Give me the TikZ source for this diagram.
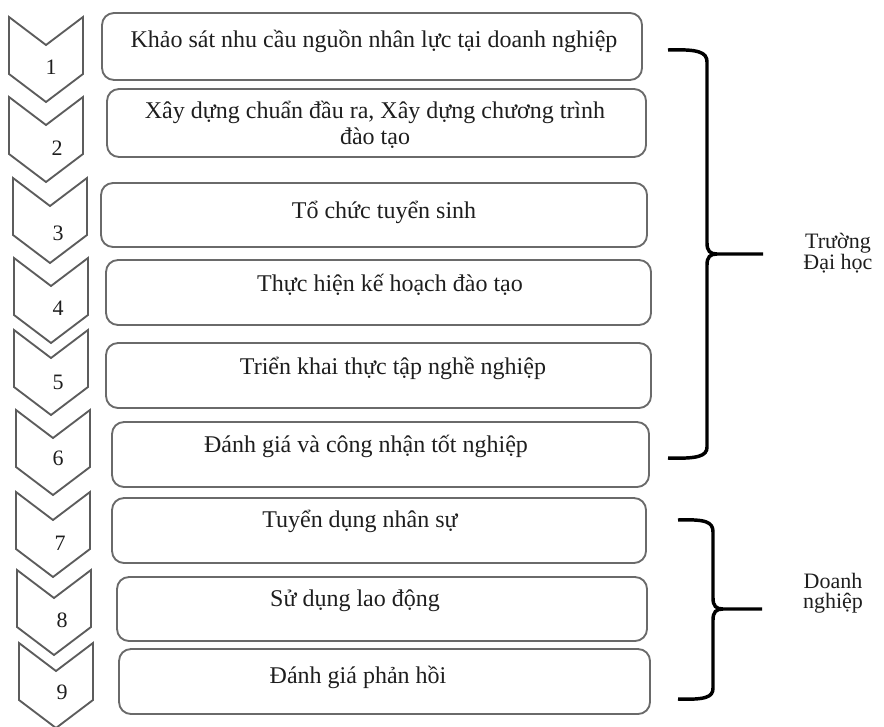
\documentclass[tikz,border=0pt]{standalone}
\usepackage{fontspec}
\setmainfont{Liberation Serif}
\definecolor{boxgray}{HTML}{6A6A6A}
\definecolor{chevgray}{HTML}{5C5C5C}
\definecolor{inkgray}{HTML}{1E1E1E}
\begin{document}
\begin{tikzpicture}[x=0.75pt,y=-0.75pt,
  stepbox/.style={draw=boxgray, line width=1.4pt, rounded corners=9pt, inner sep=0pt},
  steptext/.style={text=inkgray, font=\fontsize{18}{19.5}\selectfont, align=center, inner sep=0pt},
  chevron/.style={draw=chevgray, line width=1.4pt, line join=miter},
  stepnum/.style={text=inkgray, font=\fontsize{16.5}{16.5}\selectfont, inner sep=0pt},
  bracket/.style={draw=black, line width=2.6pt},
  grouplabel/.style={text=inkgray, font=\fontsize{16.5}{15}\selectfont, align=center, inner sep=0pt}]
\useasboundingbox (0,0) rectangle (884,727);

% step boxes: name / centre x / centre y / width / height
\foreach \n/\cx/\cy/\w/\h in {
  b1/372/46.5/540/67, b2/376.5/123/539/68, b3/374/215/546/64,
  b4/378.5/292.5/545/65, b5/378.5/375.5/545/65, b6/380.5/454.5/537/65,
  b7/379/530.5/534/65, b8/382/609/530/64, b9/384.5/681.5/531/65}
  \node[stepbox, minimum width=0.75*\w pt, minimum height=0.75*\h pt] (\n) at (\cx,\cy) {};

% chevrons with their step numbers: index / left x / top y / number x / number y
\foreach \i/\xl/\yt/\nx/\ny in {
  1/9/17/51/67, 2/9/97/57/148, 3/13/178/58/233, 4/14/258/58/308,
  5/14/330/58/382, 6/16/410/58/458, 7/16/492/60/543, 8/17/570/62/620,
  9/19/643/62/692} {
  \draw[chevron] (\xl,\yt) -- ++(37,28) -- ++(37,-28) -- ++(0,57)
    -- ++(-37,28) -- ++(-37,-28) -- cycle;
  \node[stepnum] (n\i) at (\nx,\ny) {\i};
}

% step texts
\node[steptext] (t1) at (374,41) {Khảo sát nhu cầu nguồn nhân lực tại doanh nghiệp};
\node[steptext] (t2) at (375,125) {Xây dựng chuẩn đầu ra, Xây dựng chương trình\\đào tạo};
\node[steptext] (t3) at (384,212) {Tổ chức tuyển sinh};
\node[steptext] (t4) at (390,285) {Thực hiện kế hoạch đào tạo};
\node[steptext] (t5) at (393,368) {Triển khai thực tập nghề nghiệp};
\node[steptext] (t6) at (366,446) {Đánh giá và công nhận tốt nghiệp};
\node[steptext] (t7) at (360,521) {Tuyển dụng nhân sự};
\node[steptext] (t8) at (355,601) {Sử dụng lao động};
\node[steptext] (t9) at (358,677) {Đánh giá phản hồi};

% brackets grouping the steps
\draw[bracket] (668,50) .. controls (698,49) and (707,52) .. (707,62) -- (707,243)
  .. controls (707,251) and (710,254) .. (717,254) -- (763,254);
\draw[bracket] (717,254) .. controls (710,254) and (707,257) .. (707,265) -- (707,447)
  .. controls (707,456) and (698,459) .. (668,458);

\draw[bracket] (678,520) .. controls (706,519) and (713,522) .. (713,532) -- (713,598)
  .. controls (713,606) and (716,609) .. (723,609) -- (762,609);
\draw[bracket] (723,609) .. controls (716,609) and (713,612) .. (713,620) -- (713,688)
  .. controls (713,697) and (706,700) .. (678,699);

% group labels
\node[grouplabel] (g1) at (838,253) {Trường\\Đại học};
\node[grouplabel] (g2) at (833,593) {Doanh\\nghiệp};
\end{tikzpicture}
\end{document}
